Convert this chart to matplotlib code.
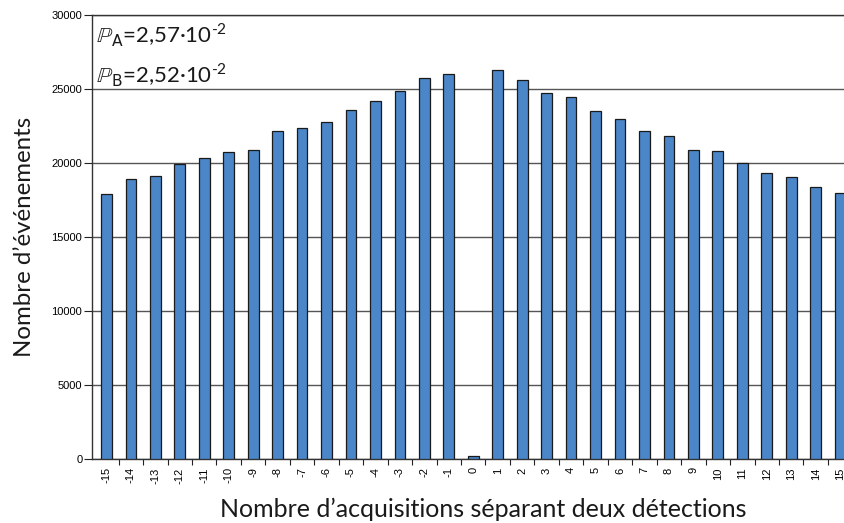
import numpy as np
import matplotlib
matplotlib.use("Agg")
from matplotlib import pyplot as plt

# nombre d'acquisitions separant deux detections
decalage = list(range(-15, 16))
evenements = [17900, 18920, 19120, 19930, 20340, 20740, 20880, 22160, 22360, 22770,
              23580, 24190, 24860, 25740, 26010, 200, 26280, 25610, 24730, 24460,
              23510, 22970, 22160, 21820, 20880, 20810, 20000, 19320, 19050, 18380, 17970]
proba_labels = ["$\\mathbb{P}_{\\mathrm{A}}$=2,57\u00b710$^{\\mathregular{\u2010 2}}$",
                "$\\mathbb{P}_{\\mathrm{B}}$=2,52\u00b710$^{\\mathregular{\u2010 2}}$"]

plt.rcParams["mathtext.fontset"] = "dejavusans"
plt.rcParams["font.family"] = ["Liberation Sans", "DejaVu Sans"]

fig = plt.figure(figsize=(8.45, 5.23), dpi=100)
ax = fig.add_axes([92 / 845, 0.1224, 753 / 845, 0.8489])

x = np.arange(len(decalage))
ax.bar(x, evenements, width=0.44, color="#4a86c8", edgecolor="#1a1a1a",
       linewidth=0.9, zorder=3)

ax.set_yticks(np.arange(0, 30001, 5000))
ax.yaxis.grid(True, color="#555555", linewidth=1.0, zorder=0)
ax.set_axisbelow(True)

# ticks between categories, labels at centres
ax.set_xticks(x + 0.5, minor=False)
ax.set_xticklabels([])
ax.set_xticks(x, minor=True)
ax.set_xticklabels([str(d) for d in decalage], minor=True, rotation=90, fontsize=8)
ax.tick_params(axis="x", which="minor", length=0, pad=6)
ax.tick_params(axis="x", which="major", length=4, direction="out", color="#222222")
ax.tick_params(axis="y", length=6, pad=1, direction="out", labelsize=8, color="#222222")

# limits after the ticks, set_xticks would widen them
ax.set_xlim(-0.59, 30.2)
ax.set_ylim(0, 30000)

ax.spines["right"].set_visible(False)
for s in ["left", "bottom", "top"]:
    ax.spines[s].set_color("#333333")
    ax.spines[s].set_linewidth(1.0)

txt_font = ["Lato", "DejaVu Sans"]
ax.set_xlabel("Nombre d\u2019acquisitions s\u00e9parant deux d\u00e9tections",
              fontsize=18, family=txt_font, color="#1a1a1a", labelpad=10)
ax.xaxis.label.set_x(0.519)
ax.set_ylabel("Nombre d\u2019\u00e9v\u00e9nements", fontsize=17.3, family=txt_font,
              color="#1a1a1a", labelpad=12)

for i, lab in enumerate(proba_labels):
    ax.text(0.005, 0.985 - i * 0.09, lab, transform=ax.transAxes, ha="left", va="top",
            fontsize=16, family=txt_font, color="#1a1a1a")

fig.savefig("out.png", dpi=100)
